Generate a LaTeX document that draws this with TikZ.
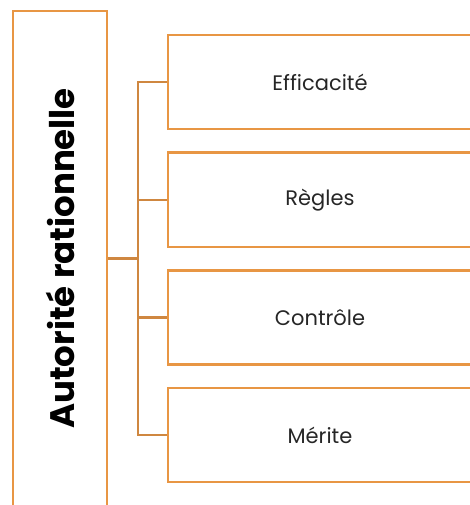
\documentclass[tikz,border=0pt]{standalone}
\usepackage{fontspec}
\setmainfont{Poppins}
\usetikzlibrary{positioning}
\definecolor{boxorange}{RGB}{232,150,68}
\definecolor{linkorange}{RGB}{207,135,64}
\tikzset{
box/.style={draw=boxorange,
  line width=2.4pt,
    minimum width=304pt,
    minimum height=94pt,
    font=\fontsize{21}{24}\selectfont,
    text=black!85},
rootbox/.style={draw=boxorange,
  line width=2.4pt,
    minimum width=94pt,
    minimum height=495pt},
link/.style={draw=linkorange,
  line width=2.4pt},
}

\begin{document}
\begin{tikzpicture}[x=1pt,y=-1pt]
  \useasboundingbox (0,0) rectangle (470,505);

  % Nodes
  \node [rootbox] (auth) at (60,258.5) {};
  \node [rotate=90, font=\bfseries\fontsize{34}{38}\selectfont] (title) at (auth.center) {Autorité rationnelle};
  \node [box] (eff) at (320,82) {Efficacité};
  \node [box, below=21.3pt of eff] (reg) {Règles};
  \node [box, below=21.3pt of reg] (ctl) {Contrôle};
  \node [box, below=21.3pt of ctl] (mer) {Mérite};

  % Bracket
  \coordinate [right=30pt of auth.east] (hub);
  \draw [link] (auth.east) -- (hub);
  \draw [link] (eff.west) -| (hub) |- (mer.west);
  \draw [link] (hub |- reg.west) -- (reg.west);
  \draw [link] (hub |- ctl.west) -- (ctl.west);
\end{tikzpicture}
\end{document}
